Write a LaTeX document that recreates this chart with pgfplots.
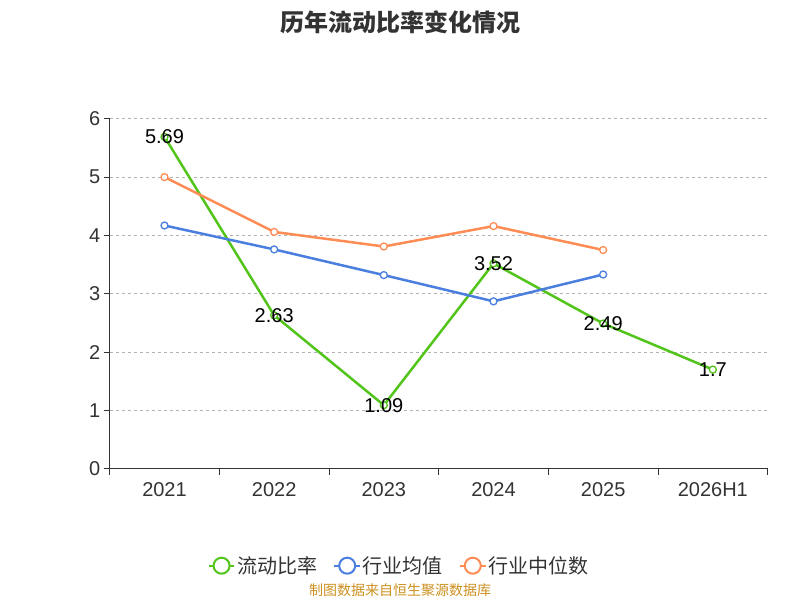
\documentclass[border=0pt]{standalone}
\usepackage{pgfplots}
\pgfplotsset{compat=1.18}
\usepackage{fontspec}
\setmainfont{Liberation Sans}
\newfontfamily\cjk{Noto Sans CJK SC}
\definecolor{cg}{HTML}{52C41A}
\definecolor{cb}{HTML}{4A7FE0}
\definecolor{co}{HTML}{FF8C55}
\definecolor{ct}{HTML}{333333}
\begin{document}
\begin{tikzpicture}[x=1pt,y=1pt]
\useasboundingbox (0,0) rectangle (800,600);
\node[font=\cjk\fontsize{24}{26}\selectfont\bfseries, text=ct] at (400,578) {历年流动比率变化情况};
\node[font=\cjk\fontsize{14}{16}\selectfont, text={rgb,255:red,204;green,144;blue,32}] at (400,10) {制图数据来自恒生聚源数据库};
\begin{axis}[at={(100,225)}, anchor=south west, scale only axis, width=658, height=350,
  xmin=-0.5, xmax=5.5, ymin=0, ymax=6,
  xtick={0,...,5}, xticklabels={2021,2022,2023,2024,2025,2026H1},
  major x tick style={draw=none},
  minor xtick={-0.5,0.5,...,5.5}, minor tick length=6,
  ytick={0,...,6}, major tick length=6, tick align=outside,
  axis x line*=bottom, axis y line*=left,
  axis line style={ct, line width=1pt}, tick style={ct, line width=1pt},
  ymajorgrids, grid style={dashed, gray!60, line width=0.8pt},
  ticklabel style={font=\fontsize{20}{22}\selectfont, text=ct},
  /pgf/number format/assume math mode=true,
  xticklabel style={yshift=-4pt},
  legend style={at={(0.44,-0.277)}, anchor=center, legend columns=3, draw=none,
    font=\cjk\fontsize{20}{22}\selectfont, text=ct, /tikz/every even column/.append style={column sep=14pt}},
  legend image code/.code={\draw[#1, line width=2pt] (0,0) -- (0.9cm,0); \draw[#1, line width=2pt, fill=white] (0.45cm,0) circle (8pt);},
  every axis plot/.append style={line width=2.5pt, mark=*, mark size=3.5pt, mark options={fill=white, line width=1.3pt}},
]
\addplot[cg, nodes near coords, point meta=explicit symbolic,
  every node near coord/.style={anchor=center, font=\fontsize{20}{22}\selectfont, text=black}]
  coordinates {(0,5.69)[5.69] (1,2.63)[2.63] (2,1.09)[1.09] (3,3.52)[3.52] (4,2.49)[2.49] (5,1.7)[1.7]};
\addplot[cb] coordinates {(0,4.17) (1,3.76) (2,3.32) (3,2.87) (4,3.33)};
\addplot[co] coordinates {(0,5.0) (1,4.06) (2,3.81) (3,4.16) (4,3.75)};
\legend{流动比率,行业均值,行业中位数}
\end{axis}
\end{tikzpicture}
\end{document}
